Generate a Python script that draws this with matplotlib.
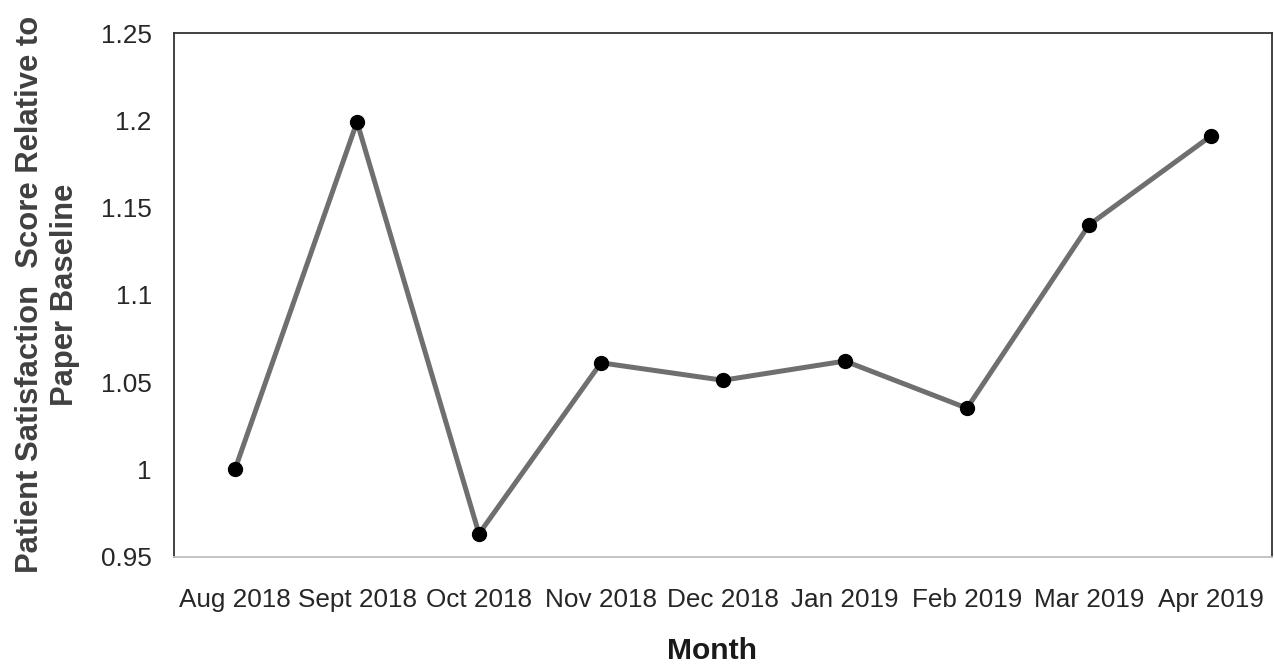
import matplotlib
matplotlib.use("Agg")
import matplotlib.pyplot as plt

months = ["Aug 2018", "Sept 2018", "Oct 2018", "Nov 2018", "Dec 2018",
          "Jan 2019", "Feb 2019", "Mar 2019", "Apr 2019"]
scores = [1.000, 1.199, 0.963, 1.061, 1.051, 1.062, 1.035, 1.140, 1.191]
yticks = [0.95, 1.0, 1.05, 1.1, 1.15, 1.2, 1.25]
ytick_labels = ["0.95", "1", "1.05", "1.1", "1.15", "1.2", "1.25"]

plt.rcParams['font.family'] = ['Liberation Sans', 'DejaVu Sans']

fig = plt.figure(figsize=(12.74, 6.66), dpi=100)
ax = fig.add_axes([174/1274, 1-556.5/666, (1272-174)/1274, (556.5-33)/666])

x = list(range(len(months)))
ax.plot(x, scores, color='#6f6f6f', linewidth=3.6, marker='o',
        markersize=10, markerfacecolor='black', markeredgecolor='black', zorder=3)

ax.set_xlim(-0.5, len(months) - 0.5)
ax.set_ylim(0.95, 1.25)
ax.set_xticks(x)
ax.set_xticklabels(months)
ax.set_yticks(yticks)
ax.set_yticklabels(ytick_labels)

ax.tick_params(axis='both', length=0, labelsize=18.8, colors='#262626')
ax.tick_params(axis='y', pad=16)
ax.tick_params(axis='x', pad=23)

for side in ['left', 'top', 'right']:
    ax.spines[side].set_color('#333333')
    ax.spines[side].set_linewidth(1.3)
ax.spines['bottom'].set_color('#bfbfbf')
ax.spines['bottom'].set_linewidth(1.3)

ax.set_xlabel("Month", fontsize=21.6, fontweight='bold', color='#1a1a1a')
ax.xaxis.set_label_coords(0.49, -0.153)
ax.set_ylabel("Patient Satisfaction  Score Relative to\nPaper Baseline",
              fontsize=22.3, fontweight='bold', color='#404040', linespacing=1.2)
ax.yaxis.set_label_coords(-0.086, 0.5)

fig.savefig("out.png", dpi=100)
